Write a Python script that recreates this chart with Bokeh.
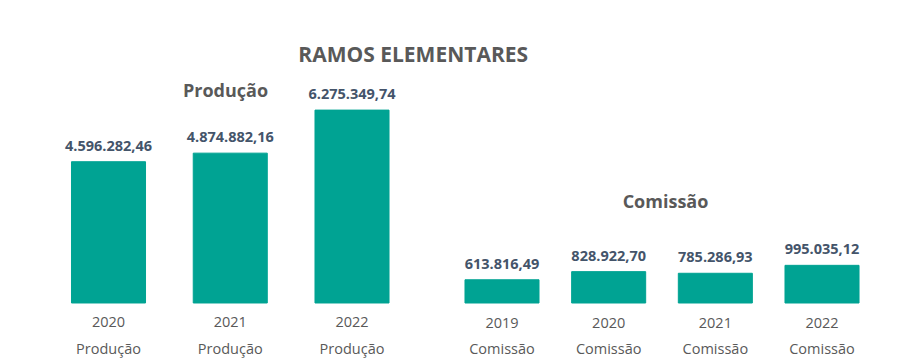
from bokeh.plotting import figure
from bokeh.models import Range1d, ColumnDataSource, Label
from bokeh.core.properties import value
from bokeh.embed import file_html
from bokeh.resources import INLINE

# ---- data ----
title_text = "RAMOS ELEMENTARES"
prod_name = "Produção"
com_name = "Comissão"
prod_years = ["2020", "2021", "2022"]
prod_values = [4596282.46, 4874882.16, 6275349.74]
com_years = ["2019", "2020", "2021", "2022"]
com_values = [613816.49, 828922.70, 785286.93, 995035.12]

BAR = "#00A393"
VAL = "#44546A"
GRAY = "#595959"
FONT = "Open Sans"


def br(v):
    s = f"{v:,.2f}"
    return s.replace(",", "X").replace(".", ",").replace("X", ".")


W, H = 901, 362

p = figure(width=W, height=H, output_backend="svg", toolbar_location=None,
           x_range=Range1d(-0.8871, 6.5133), y_range=Range1d(-1.9356e6, 9.8406e6),
           x_axis_type=None, y_axis_type=None, min_border=0,
           background_fill_color="white", border_fill_color="white")
p.extra_x_ranges = {"com": Range1d(-4.7014, 3.7452)}
p.extra_y_ranges = {"com": Range1d(-1.5720e6, 7.9921e6)}
p.grid.visible = False
p.outline_line_color = None

prod_src = ColumnDataSource(dict(
    x=list(range(len(prod_years))), top=prod_values,
    lab=[br(v) for v in prod_values], year=prod_years,
    grp=[prod_name] * len(prod_years), zero=[0] * len(prod_years)))
com_src = ColumnDataSource(dict(
    x=list(range(len(com_years))), top=com_values,
    lab=[br(v) for v in com_values], year=com_years,
    grp=[com_name] * len(com_years), zero=[0] * len(com_years)))

for src, w, kw in [(prod_src, 0.608, {}),
                   (com_src, 0.694, dict(x_range_name="com", y_range_name="com"))]:
    p.vbar(x="x", top="top", bottom=0, width=w, source=src,
           fill_color=BAR, line_color=BAR, **kw)
    p.text(x="x", y="top", text="lab", source=src, y_offset=-16,
           text_align="center", text_baseline="alphabetic",
           text_font=value(FONT), text_font_style="bold",
           text_font_size="14.5px", text_color=VAL, **kw)
    p.text(x="x", y="zero", text="year", source=src, y_offset=19.5,
           text_align="center", text_baseline="alphabetic",
           text_font=value(FONT), text_font_size="14.5px", text_color=GRAY, **kw)
    p.text(x="x", y="zero", text="grp", source=src, y_offset=45.5,
           text_align="center", text_baseline="alphabetic",
           text_font=value(FONT), text_font_size="14.5px", text_color=GRAY, **kw)

p.add_layout(Label(x=412.7, y=309, x_units="screen", y_units="screen",
                   text=title_text, text_align="center", text_baseline="alphabetic",
                   text_font=FONT, text_font_style="bold", text_font_size="21px",
                   text_color=GRAY))
p.add_layout(Label(x=225, y=273, x_units="screen", y_units="screen",
                   text=prod_name, text_align="center", text_baseline="alphabetic",
                   text_font=FONT, text_font_style="bold", text_font_size="18px",
                   text_color=GRAY))
p.add_layout(Label(x=665, y=162, x_units="screen", y_units="screen",
                   text=com_name, text_align="center", text_baseline="alphabetic",
                   text_font=FONT, text_font_style="bold", text_font_size="18px",
                   text_color=GRAY))

open("out.html", "w").write(file_html(p, INLINE))
